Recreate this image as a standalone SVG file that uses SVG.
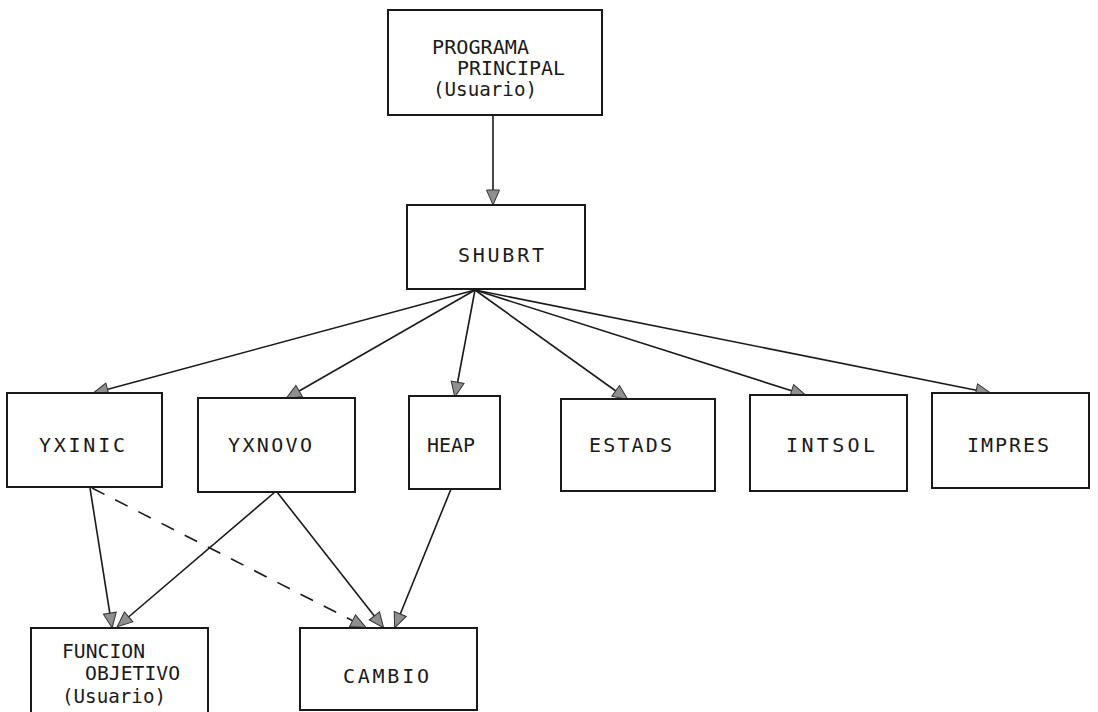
<svg xmlns="http://www.w3.org/2000/svg" width="1098" height="712" viewBox="0 0 1098 712">
<defs>
<marker id="ah" markerUnits="userSpaceOnUse" markerWidth="16" markerHeight="14" refX="14" refY="6.5" orient="auto" overflow="visible">
<path d="M0,0 L15,6.5 L0,13 Z" fill="#8f8f8f" stroke="#333" stroke-width="1"/>
</marker>
</defs>
<style>
.box{fill:#fff;stroke:#1a1a1a;stroke-width:2}
.t{font-family:"DejaVu Sans Mono",monospace;font-size:20px;fill:#1a1a1a}
.ln{stroke:#1a1a1a;stroke-width:1.6;fill:none;marker-end:url(#ah)}
.dash{stroke-dasharray:14,12}
</style>
<rect width="1098" height="712" fill="#fff"/>
<g id="connectors">
<line class="ln" x1="493" y1="115" x2="493" y2="204"/>
<line class="ln" x1="475" y1="290" x2="94" y2="393"/>
<line class="ln" x1="475" y1="290" x2="287" y2="398"/>
<line class="ln" x1="475" y1="290" x2="455" y2="396"/>
<line class="ln" x1="475" y1="290" x2="627" y2="399"/>
<line class="ln" x1="475" y1="290" x2="805" y2="395"/>
<line class="ln" x1="475" y1="290" x2="990" y2="393"/>
<line class="ln" x1="90" y1="488" x2="112" y2="627"/>
<line class="ln" x1="275" y1="492" x2="118" y2="626"/>
<line class="ln dash" x1="92" y1="488" x2="365" y2="627"/>
<line class="ln" x1="277" y1="492" x2="383" y2="627"/>
<line class="ln" x1="451" y1="489" x2="395" y2="627"/>
</g>
<g id="programa">
<rect class="box" x="388" y="10" width="214" height="105"/>
<text class="t" x="432" y="54" textLength="97" lengthAdjust="spacingAndGlyphs">PROGRAMA</text>
<text class="t" x="457" y="75" textLength="108" lengthAdjust="spacingAndGlyphs">PRINCIPAL</text>
<text class="t" x="433" y="96" textLength="104" lengthAdjust="spacingAndGlyphs">(Usuario)</text>
</g>
<g id="shubrt">
<rect class="box" x="407" y="205" width="178" height="84"/>
<text class="t" x="458" y="262" textLength="86" lengthAdjust="spacing">SHUBRT</text>
</g>
<g id="yxinic">
<rect class="box" x="7" y="393" width="155" height="94"/>
<text class="t" x="39" y="452" textLength="86" lengthAdjust="spacing">YXINIC</text>
</g>
<g id="yxnovo">
<rect class="box" x="198" y="398" width="157" height="94"/>
<text class="t" x="228" y="452" textLength="84" lengthAdjust="spacing">YXNOVO</text>
</g>
<g id="heap">
<rect class="box" x="409" y="396" width="91" height="93"/>
<text class="t" x="427" y="452" textLength="48" lengthAdjust="spacingAndGlyphs">HEAP</text>
</g>
<g id="estads">
<rect class="box" x="561" y="399" width="154" height="92"/>
<text class="t" x="589" y="452" textLength="83" lengthAdjust="spacing">ESTADS</text>
</g>
<g id="intsol">
<rect class="box" x="750" y="395" width="157" height="96"/>
<text class="t" x="786" y="452" textLength="89" lengthAdjust="spacing">INTSOL</text>
</g>
<g id="impres">
<rect class="box" x="932" y="393" width="157" height="95"/>
<text class="t" x="967" y="452" textLength="82" lengthAdjust="spacing">IMPRES</text>
</g>
<g id="funcion">
<rect class="box" x="31" y="628" width="177" height="90"/>
<text class="t" x="62" y="658" textLength="83" lengthAdjust="spacingAndGlyphs">FUNCION</text>
<text class="t" x="85" y="680" textLength="95" lengthAdjust="spacingAndGlyphs">OBJETIVO</text>
<text class="t" x="62" y="703" textLength="104" lengthAdjust="spacingAndGlyphs">(Usuario)</text>
</g>
<g id="cambio">
<rect class="box" x="300" y="628" width="177" height="82"/>
<text class="t" x="343" y="683" textLength="86" lengthAdjust="spacing">CAMBIO</text>
</g>
</svg>
